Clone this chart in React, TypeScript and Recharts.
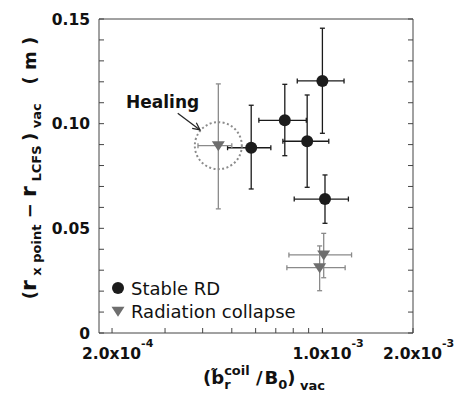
import React from 'react';
import { ScatterChart, Scatter, XAxis, YAxis, ErrorBar, ReferenceDot, Legend } from 'recharts';

const FONT = '"DejaVu Sans", sans-serif';

// Stable RD (black circles)
const stableX = [5.8e-4, 7.5e-4, 8.9e-4, 1.0e-3, 1.02e-3];
const stableY = [0.0885, 0.1016, 0.0916, 0.1204, 0.064];
const stableXLow = [4.84e-4, 6.15e-4, 7.39e-4, 8.25e-4, 8.06e-4];
const stableXHigh = [6.74e-4, 8.84e-4, 1.05e-3, 1.18e-3, 1.22e-3];
const stableYLow = [0.0688, 0.0847, 0.0696, 0.0954, 0.0524];
const stableYHigh = [0.1088, 0.1188, 0.1137, 0.1456, 0.0755];

// Radiation collapse (gray triangles)
const collapseX = [4.51e-4, 1.01e-3, 9.79e-4];
const collapseY = [0.0895, 0.0373, 0.0312];
const collapseXLow = [3.86e-4, 7.74e-4, 7.62e-4];
const collapseXHigh = [5.0e-4, 1.25e-3, 1.19e-3];
const collapseYLow = [0.0593, 0.0264, 0.0202];
const collapseYHigh = [0.119, 0.0476, 0.0416];

// healing point
const healingX = 4.51e-4;
const healingY = 0.0895;

const seriesOrder = ['Stable RD', 'Radiation collapse'];

const xTicks = [2e-4, 3e-4, 4e-4, 5e-4, 6e-4, 7e-4, 8e-4, 9e-4, 1e-3, 2e-3];
const xLabeled = [2e-4, 1e-3, 2e-3];
const yTicks = [0, 0.01, 0.02, 0.03, 0.04, 0.05, 0.06, 0.07, 0.08, 0.09, 0.1, 0.11, 0.12, 0.13, 0.14, 0.15];
const yLabels: Record<string, string> = { '0': '0', '0.05': '0.05', '0.1': '0.10', '0.15': '0.15' };

const buildRows = (xs: number[], ys: number[], xl: number[], xh: number[], yl: number[], yh: number[]) =>
  xs.map((x, i) => ({
    x,
    y: ys[i],
    ex: [x - xl[i], xh[i] - x],
    ey: [ys[i] - yl[i], yh[i] - ys[i]],
  }));

const stableData = buildRows(stableX, stableY, stableXLow, stableXHigh, stableYLow, stableYHigh);
const collapseData = buildRows(collapseX, collapseY, collapseXLow, collapseXHigh, collapseYLow, collapseYHigh);

const AXIS_COLOR = '#444';
const TEXT_COLOR = '#111';
const TICK_LEN = 5;

const CircleShape = (props: any) => <circle cx={props.cx} cy={props.cy} r={6} fill="#1c1c1c" />;

const TriangleShape = (props: any) => {
  const { cx, cy } = props;
  return <polygon points={`${cx - 6.5},${cy - 4.5} ${cx + 6.5},${cy - 4.5} ${cx},${cy + 5.5}`} fill="#6e6e6e" />;
};

// inward tick marks; axes use tickSize 0 so x/y is the axis line position
const BottomTick = (props: any) => {
  const { x, y, payload } = props;
  const v = payload.value;
  const labeled = xLabeled.some((l) => Math.abs(l - v) / l < 1e-6);
  const exp = Math.floor(Math.log10(v) + 1e-9);
  const mant = (v / Math.pow(10, exp)).toFixed(1);
  return (
    <g>
      <line x1={x} x2={x} y1={y} y2={y - TICK_LEN} stroke={AXIS_COLOR} />
      {labeled && (
        <text x={x - 30} y={y + 26} fontFamily={FONT} fontWeight="bold" fontSize={15.5} fill={TEXT_COLOR}>
          {`${mant}x10`}
          <tspan fontSize={11} dy={-12}>{exp}</tspan>
        </text>
      )}
    </g>
  );
};

const TopTick = (props: any) => (
  <line x1={props.x} x2={props.x} y1={props.y} y2={props.y + TICK_LEN} stroke={AXIS_COLOR} />
);

const LeftTick = (props: any) => {
  const { x, y, payload } = props;
  const label = yLabels[String(payload.value)] ?? '';
  return (
    <g>
      <line x1={x} x2={x + TICK_LEN} y1={y} y2={y} stroke={AXIS_COLOR} />
      {label && (
        <text x={x - 9} y={y} dy="0.36em" textAnchor="end" fontFamily={FONT} fontWeight="bold" fontSize={15.5} fill={TEXT_COLOR}>
          {label}
        </text>
      )}
    </g>
  );
};

const RightTick = (props: any) => (
  <line x1={props.x} x2={props.x - TICK_LEN} y1={props.y} y2={props.y} stroke={AXIS_COLOR} />
);

const XAxisLabel = (props: any) => {
  const vb = props.viewBox || { x: 99, y: 333 };
  return (
    <text x={vb.x + 104} y={vb.y + 51} fontFamily={FONT} fontWeight="bold" fontSize={18} fill={TEXT_COLOR} style={{ whiteSpace: 'pre' }}>
      {'(b\u0303'}
      <tspan fontSize={13} dy={5}>r</tspan>
      <tspan fontSize={13} dx={-6.4} dy={-14}>coil</tspan>
      <tspan fontSize={18} dy={9}>{' /'}</tspan>
      <tspan dx={2}>B</tspan>
      <tspan fontSize={13} dy={5}>0</tspan>
      <tspan fontSize={18} dy={-5}>)</tspan>
      <tspan fontSize={13} dy={6}>{' vac'}</tspan>
    </text>
  );
};

const YAxisLabel = () => (
  <text transform="translate(36,168) rotate(-90)" textAnchor="middle" fontFamily={FONT} fontWeight="bold" fontSize={18} fill={TEXT_COLOR} style={{ whiteSpace: 'pre' }}>
    <tspan>(</tspan>
    <tspan fontSize={22}>r</tspan>
    <tspan fontSize={13} dy={5}>{' x point'}</tspan>
    <tspan dy={-5}>{' \u2212 '}</tspan>
    <tspan fontSize={22}>r</tspan>
    <tspan fontSize={13} dy={5}>{' LCFS '}</tspan>
    <tspan dy={-5}>)</tspan>
    <tspan fontSize={13} dy={5}>{' vac'}</tspan>
    <tspan dy={-5}>{'   ( m )'}</tspan>
  </text>
);

const HealingMark = (props: any) => {
  const { cx, cy } = props;
  const sx = cx - 40.6;
  const sy = cy - 32.4;
  const ex = cx - 18.3;
  const ey = cy - 15.7;
  const ang = Math.atan2(ey - sy, ex - sx);
  const head = 8;
  const spread = 0.45;
  const h1 = `${ex - head * Math.cos(ang - spread)},${ey - head * Math.sin(ang - spread)}`;
  const h2 = `${ex - head * Math.cos(ang + spread)},${ey - head * Math.sin(ang + spread)}`;
  return (
    <g>
      <circle cx={cx} cy={cy} r={23.5} fill="none" stroke="#8c8c8c" strokeWidth={2} strokeDasharray="2 2.4" />
      <line x1={sx} y1={sy} x2={ex} y2={ey} stroke="#222" strokeWidth={1.2} />
      <polyline points={`${h1} ${ex},${ey} ${h2}`} fill="none" stroke="#222" strokeWidth={1.2} />
      <text x={cx - 92.3} y={cy - 37.4} fontFamily={FONT} fontWeight="bold" fontSize={17} fill={TEXT_COLOR}>
        Healing
      </text>
    </g>
  );
};

const renderLegend = (props: any) => {
  const items = [...(props.payload || [])].sort(
    (a: any, b: any) => seriesOrder.indexOf(a.value) - seriesOrder.indexOf(b.value)
  );
  return (
    <svg width={220} height={52}>
      {items.map((p: any, i: number) => (
        <g key={`leg-${i}`} transform={`translate(0, ${i * 23.3})`}>
          {p.value === 'Stable RD' ? (
            <circle cx={13} cy={14} r={6} fill="#1c1c1c" />
          ) : (
            <polygon points="6.5,9.5 19.5,9.5 13,19.5" fill="#6e6e6e" />
          )}
          <text x={26} y={21} fontFamily={FONT} fontSize={18} fill={TEXT_COLOR}>
            {p.value}
          </text>
        </g>
      ))}
    </svg>
  );
};

export default function App() {
  return (
    <div style={{ position: 'absolute', left: 0, top: 0, background: '#fff' }}>
      <ScatterChart width={465} height={394} margin={{ top: 18, right: 51, bottom: 0, left: 0 }}>
        <XAxis
          xAxisId="main"
          dataKey="x"
          type="number"
          scale="log"
          domain={[1.81e-4, 2e-3]}
          allowDataOverflow
          ticks={xTicks}
          interval={0}
          height={61}
          stroke={AXIS_COLOR}
          tickLine={false}
          tickSize={0}
          tickMargin={0}
          tick={<BottomTick />}
          label={(p: any) => <XAxisLabel {...p} />}
        />
        <XAxis
          xAxisId="top"
          orientation="top"
          type="number"
          scale="log"
          domain={[1.81e-4, 2e-3]}
          allowDataOverflow
          ticks={xTicks}
          interval={0}
          height={1}
          stroke={AXIS_COLOR}
          tickLine={false}
          tickSize={0}
          tickMargin={0}
          tick={<TopTick />}
        />
        <YAxis
          yAxisId="main"
          dataKey="y"
          type="number"
          domain={[0, 0.15]}
          allowDataOverflow
          ticks={yTicks}
          interval={0}
          width={99}
          stroke={AXIS_COLOR}
          tickLine={false}
          tickSize={0}
          tickMargin={0}
          tick={<LeftTick />}
          label={() => <YAxisLabel />}
        />
        <YAxis
          yAxisId="right"
          orientation="right"
          type="number"
          domain={[0, 0.15]}
          allowDataOverflow
          ticks={yTicks}
          interval={0}
          width={1}
          stroke={AXIS_COLOR}
          tickLine={false}
          tickSize={0}
          tickMargin={0}
          tick={<RightTick />}
        />
        <Legend
          layout="vertical"
          align="center"
          verticalAlign="middle"
          content={renderLegend}
          wrapperStyle={{ position: 'absolute', left: 105, top: 274, width: 220, height: 52 }}
        />
        <Scatter
          name="Stable RD"
          data={stableData}
          xAxisId="main"
          yAxisId="main"
          shape={CircleShape}
          fill="#1c1c1c"
          isAnimationActive={false}
        >
          <ErrorBar dataKey="ex" direction="x" width={2.5} stroke="#1a1a1a" strokeWidth={1.3} />
          <ErrorBar dataKey="ey" direction="y" width={2.5} stroke="#1a1a1a" strokeWidth={1.3} />
        </Scatter>
        <Scatter
          name="Radiation collapse"
          data={collapseData}
          xAxisId="main"
          yAxisId="main"
          shape={TriangleShape}
          fill="#6e6e6e"
          isAnimationActive={false}
        >
          <ErrorBar dataKey="ex" direction="x" width={2.5} stroke="#8a8a8a" strokeWidth={1.3} />
          <ErrorBar dataKey="ey" direction="y" width={2.5} stroke="#8a8a8a" strokeWidth={1.3} />
        </Scatter>
        <ReferenceDot
          xAxisId="main"
          yAxisId="main"
          x={healingX}
          y={healingY}
          r={23.5}
          shape={HealingMark}
        />
      </ScatterChart>
    </div>
  );
}
